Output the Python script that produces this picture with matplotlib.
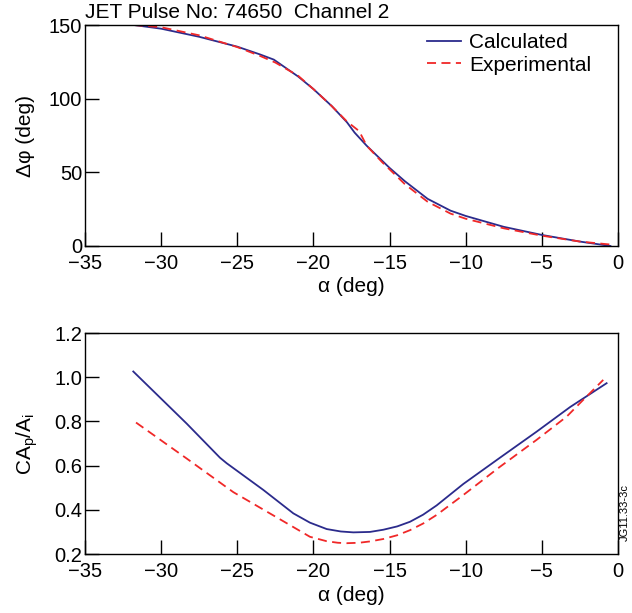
import numpy as np
import matplotlib.pyplot as plt

plt.rcParams['font.family'] = ['Liberation Sans', 'DejaVu Sans']
plt.rcParams['mathtext.fontset'] = 'custom'
plt.rcParams['mathtext.rm'] = 'Liberation Sans'
plt.rcParams['mathtext.it'] = 'Liberation Sans'

# top panel: phase difference
alpha_calc_top = [-31.8, -30, -27.5, -25, -23.5, -22.6, -21, -20, -18.8, -17.8, -17.3, -16.5,
                  -15.5, -15, -14, -12.5, -11, -10, -7.5, -5, -2.5, -0.5]
dphi_calc = [150, 147.5, 142, 135.3, 130, 126.5, 115, 106.5, 95, 84, 77, 68,
             58, 53, 44, 32, 24, 20.4, 13, 7.5, 3, 0]
alpha_exp_top = [-31.8, -30, -27.5, -25, -23.5, -22.5, -21, -20, -18.8, -17.8, -17, -16.5,
                 -15.5, -15, -14, -12.5, -11, -10, -7.5, -5, -2.5, -0.5]
dphi_exp = [150, 148.5, 143, 135, 129, 124.5, 115.5, 106.5, 95, 84.5, 78, 68,
            57, 52, 42, 30, 22, 18.5, 12, 7, 3, 1]

# bottom panel: normalised amplitude
alpha_calc_bot = [-31.83, -28.32, -26.14, -25.7, -23.29, -21.32, -20.23, -19.13, -18.2, -17.38,
                  -16.29, -15.41, -14.5, -13.66, -12.8, -11.91, -10.16, -7.75, -5.34, -3.15, -0.75]
amp_calc = [1.026, 0.790, 0.636, 0.611, 0.490, 0.384, 0.342, 0.313, 0.302, 0.298,
            0.300, 0.310, 0.325, 0.346, 0.378, 0.420, 0.517, 0.636, 0.754, 0.865, 0.973]
alpha_exp_bot = [-31.65, -28.32, -25.26, -22.64, -21.32, -20.23, -19.13, -18.4, -17.82, -17.0,
                 -16.29, -15.41, -14.5, -13.66, -12.8, -11.91, -10.16, -7.75, -5.34, -3.37, -2.28, -0.97]
amp_exp = [0.795, 0.632, 0.480, 0.375, 0.322, 0.278, 0.258, 0.251, 0.249, 0.251,
           0.257, 0.268, 0.285, 0.308, 0.338, 0.377, 0.467, 0.595, 0.717, 0.822, 0.898, 0.988]

calc_color = '#2b2b8c'
exp_color = '#f02828'

fig = plt.figure(figsize=(6.32, 6.13), dpi=100)
ax0 = fig.add_axes([0.1345, 0.5987, 0.8434, 0.3605])
ax1 = fig.add_axes([0.1345, 0.0962, 0.8434, 0.3605])

ax0.plot(alpha_calc_top, dphi_calc, color=calc_color, lw=1.3, label='Calculated')
ax0.plot(alpha_exp_top, dphi_exp, color=exp_color, lw=1.3, ls=(0, (5, 3)), label='Experimental')
ax0.set_ylim(0, 150)
ax0.set_yticks([0, 50, 100, 150])
ax0.set_ylabel('Δφ (deg)', fontsize=15, labelpad=10)
ax0.legend(loc='upper left', bbox_to_anchor=(0.642, 0.962), frameon=False, fontsize=15,
           handlelength=1.6, handletextpad=0.4, borderpad=0, borderaxespad=0,
           labelspacing=0.15)
ax0.text(0.0, 1.032, 'JET Pulse No: 74650  Channel 2', transform=ax0.transAxes,
         fontsize=15, ha='left', va='baseline')

ax1.plot(alpha_calc_bot, amp_calc, color=calc_color, lw=1.3)
ax1.plot(alpha_exp_bot, amp_exp, color=exp_color, lw=1.3, ls=(0, (5, 3)))
ax1.set_ylim(0.2, 1.2)
ax1.set_yticks([0.2, 0.4, 0.6, 0.8, 1.0, 1.2])
ax1.set_yticklabels(['0.2', '0.4', '0.6', '0.8', '1.0', '1.2'])
ax1.set_ylabel('CA$_\\mathregular{p}$/A$_\\mathregular{i}$', fontsize=15, labelpad=10)
ax1.text(1.004, 0.06, 'JG11.33-3c', transform=ax1.transAxes, rotation=90,
         fontsize=8, ha='left', va='bottom')

for ax in (ax0, ax1):
    ax.set_xlim(-35, 0)
    ax.set_xticks([-35, -30, -25, -20, -15, -10, -5, 0])
    ax.set_xticklabels(['\u221235', '\u221230', '\u221225', '\u221220', '\u221215', '\u221210', '\u22125', '0'])
    ax.set_xlabel('α (deg)', fontsize=15, labelpad=3)
    ax.tick_params(direction='in', length=10, width=1, labelsize=14.5,
                   top=False, right=False)
    ax.tick_params(axis='x', pad=6)
    ax.tick_params(axis='y', pad=2)
    for s in ax.spines.values():
        s.set_linewidth(1.0)

fig.savefig('out.png', dpi=100)
